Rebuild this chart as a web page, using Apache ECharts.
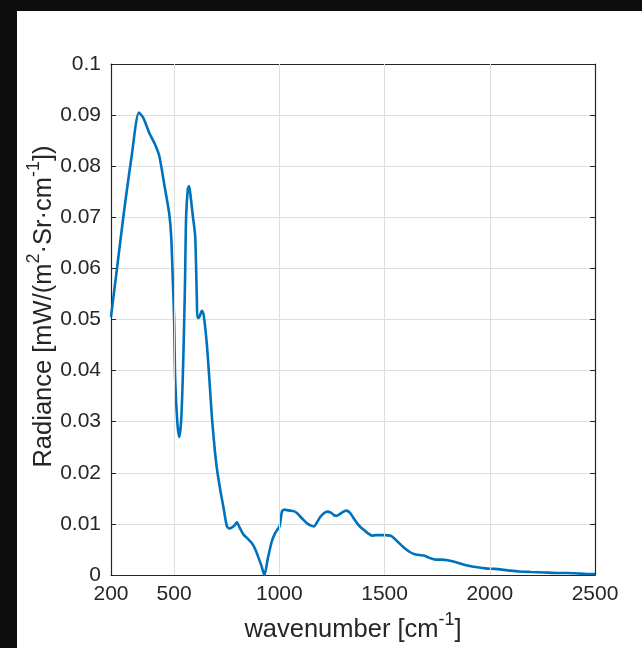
<!DOCTYPE html>
<html>
<head>
<meta charset="utf-8">
<script src="https://cdn.jsdelivr.net/npm/echarts@6/dist/echarts.min.js"></script>
<style>
html,body{margin:0;padding:0;background:#fff;}
#c{width:642px;height:648px;}
</style>
</head>
<body>
<div id="c"></div>
<script>
// wavenumber [cm^-1]
const wavenumber = [200,230,259,298,333,354,382,410,430,452,476,486,494,500,505,515,524,533,541,548,552,557,565,571,580,589,600,608,611,620,632,640,656,668,680,692,703,720,735,751,763,775,787,798,812,830,850,870,886,900,915,929,945,965,980,989,1001,1013,1025,1036,1050,1068,1085,1100,1117,1132,1148,1164,1180,1195,1212,1227,1245,1260,1275,1290,1305,1319,1335,1350,1370,1385,1402,1420,1441,1460,1473,1500,1529,1545,1560,1580,1600,1620,1640,1665,1687,1710,1743,1770,1799,1840,1878,1910,1941,1980,2021,2050,2084,2140,2195,2260,2322,2370,2418,2460,2500];
// radiance [mW/(m^2·Sr·cm^-1)]
const radiance = [0.0505,0.0605,0.0702,0.0819,0.0905,0.0894,0.0865,0.0842,0.0819,0.0767,0.0709,0.0663,0.0573,0.050,0.0384,0.030,0.027,0.030,0.0384,0.050,0.058,0.0702,0.0755,0.0761,0.0735,0.0702,0.0663,0.054,0.0503,0.0505,0.0517,0.0510,0.0449,0.0380,0.0306,0.0250,0.0209,0.0165,0.0131,0.0095,0.0091,0.0093,0.0097,0.0103,0.0092,0.0079,0.0071,0.0062,0.0050,0.0035,0.0018,0.0,0.0032,0.0067,0.0082,0.0088,0.0095,0.0125,0.0128,0.0127,0.0126,0.0125,0.0121,0.0114,0.0107,0.0101,0.0097,0.0095,0.0104,0.0114,0.0121,0.0124,0.0122,0.0117,0.0116,0.0120,0.0124,0.0126,0.0122,0.0113,0.0101,0.0094,0.0088,0.0082,0.0077,0.0078,0.0078,0.0078,0.0077,0.0072,0.0066,0.0058,0.0051,0.0045,0.0041,0.0039,0.0038,0.0034,0.0030,0.0030,0.0029,0.0025,0.0020,0.0017,0.0015,0.0013,0.0012,0.0011,0.0009,0.0007,0.0006,0.0005,0.0004,0.0004,0.0003,0.0002,0.0002];
const xTicks = [200,500,1000,1500,2000,2500];
const xGrid = [500,1000,1500,2000];
const yMin = 0, yMax = 0.1, yStep = 0.01;

const axisColor = '#262626';
const font = 'Liberation Sans, Arial, Helvetica, sans-serif';
const chart = echarts.init(document.getElementById('c'), null, {renderer:'canvas'});
const data = wavenumber.map((w,i)=>[w, radiance[i]]);
const titleRich = {
  a:{fontSize:25.5, fontFamily:font, color:axisColor, lineHeight:32, verticalAlign:'bottom'},
  sup:{fontSize:18, fontFamily:font, color:axisColor, lineHeight:18, verticalAlign:'top'}
};
chart.setOption({
  animation:false,
  backgroundColor:'#ffffff',
  graphic:[
    {type:'rect', shape:{x:0,y:0,width:642,height:11}, style:{fill:'#0c0c0c'}, z:-10, silent:true},
    {type:'rect', shape:{x:0,y:0,width:17,height:648}, style:{fill:'#0c0c0c'}, z:-10, silent:true}
  ],
  grid:{left:111, right:47, top:64, bottom:71, containLabel:false},
  xAxis:[{
    type:'value', min:200, max:2500,
    name:'{a|wavenumber [cm}{sup|-1}{a|]}', nameLocation:'middle', nameGap:36, nameMoveOverlap:false,
    nameTextStyle:{color:axisColor, fontSize:25.5, fontFamily:font, rich:titleRich},
    axisLine:{show:true, onZero:false, lineStyle:{color:axisColor, width:1.2}},
    axisTick:{show:true, inside:true, length:5, customValues:xTicks, lineStyle:{color:axisColor}},
    axisLabel:{show:true, customValues:xTicks, color:axisColor, fontSize:21, fontFamily:font, margin:9,
      formatter:v=>String(v)},
    splitLine:{show:false}
  },{
    type:'value', min:200, max:2500, position:'top',
    axisLine:{show:true, onZero:false, lineStyle:{color:axisColor, width:1.2}},
    axisTick:{show:true, inside:true, length:5, customValues:xTicks, lineStyle:{color:axisColor}},
    axisLabel:{show:false}, splitLine:{show:false}
  }],
  yAxis:[{
    type:'value', min:yMin, max:yMax, interval:yStep,
    name:'{a|Radiance [mW/(m}{sup|2}{a|·Sr·cm}{sup|-1}{a|])}', nameLocation:'middle', nameGap:54, nameRotate:90,
    nameMoveOverlap:false,
    nameTextStyle:{color:axisColor, fontSize:25.5, fontFamily:font, rich:titleRich, padding:[0,0,0,26]},
    axisLine:{show:true, onZero:false, lineStyle:{color:axisColor, width:1.2}},
    axisTick:{show:true, inside:true, length:5, lineStyle:{color:axisColor}},
    axisLabel:{show:true, color:axisColor, fontSize:21, fontFamily:font, margin:10,
      formatter:v=>String(+v.toFixed(2))},
    splitLine:{show:true, lineStyle:{color:'#dedede', width:1}}
  },{
    type:'value', min:yMin, max:yMax, interval:yStep, position:'right',
    axisLine:{show:true, onZero:false, lineStyle:{color:axisColor, width:1.2}},
    axisTick:{show:true, inside:true, length:5, lineStyle:{color:axisColor}},
    axisLabel:{show:false}, splitLine:{show:false}
  }],
  series:[{
    type:'line', data:data, xAxisIndex:0, yAxisIndex:0,
    showSymbol:false, smooth:0.25,
    lineStyle:{color:'#0072BD', width:2.6},
    markLine:{
      silent:true, symbol:'none', label:{show:false},
      lineStyle:{color:'#dedede', width:1, type:'solid'},
      data: xGrid.map(v=>({xAxis:v}))
    },
    z:3
  }]
});
</script>
</body>
</html>
